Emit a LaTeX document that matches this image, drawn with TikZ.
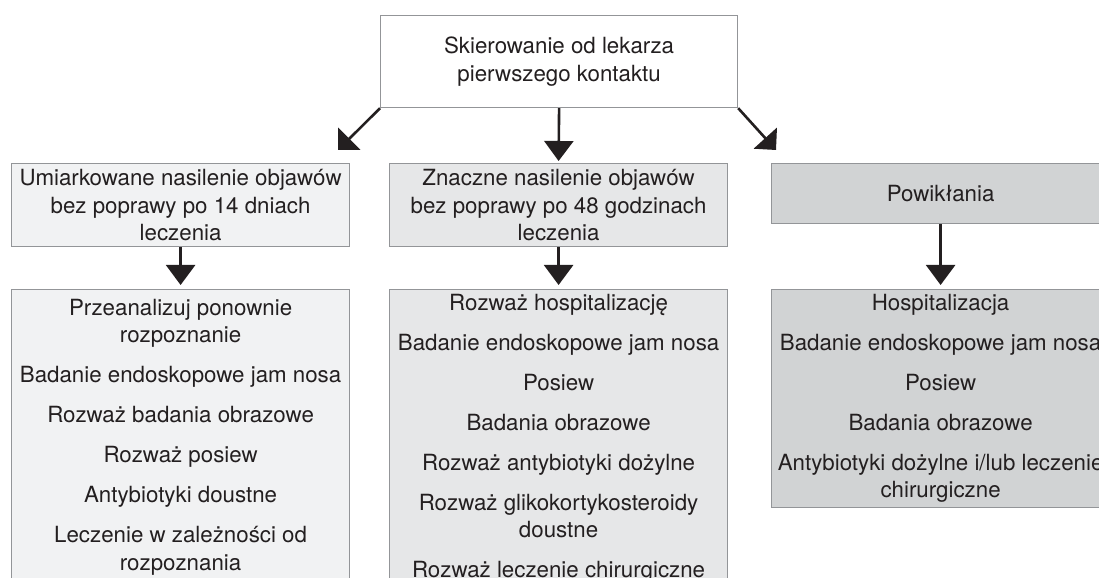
\documentclass[tikz,border=0pt]{standalone}
\usepackage{fontspec}
\setmainfont{TeX Gyre Heros}
\usetikzlibrary{arrows.meta}
\definecolor{ink}{HTML}{231F20}
\definecolor{edge}{HTML}{939598}
\definecolor{fillA}{HTML}{F1F2F3}
\definecolor{fillB}{HTML}{E6E7E8}
\definecolor{fillC}{HTML}{D1D3D4}
\begin{document}
\begin{tikzpicture}[x=1bp,y=-1bp,
  box/.style={draw=edge, line width=1.2bp, inner sep=0pt, minimum width=338bp, anchor=north west},
  txt/.style={text=ink, align=center, inner sep=0pt, anchor=north,
    font=\fontsize{22.3bp}{27.5bp}\selectfont},
  arr/.style={draw=ink, line width=2.6bp, -{Triangle[length=20bp,width=29bp]}},
  darr/.style={draw=ink, line width=2.6bp, -{Triangle[length=16bp,width=31bp]}}
]
\useasboundingbox (0,0) rectangle (1099,578);
\clip (0,0) rectangle (1099,578);

% top: referral
\node[box, fill=white, minimum width=357bp, minimum height=92bp] (top) at (380,15) {};
\node[txt, anchor=center] (topt) at (top.center) {Skierowanie od lekarza\\pierwszego kontaktu};

% second row: severity
\node[box, fill=fillA, minimum height=83bp] (m1) at (11,163) {};
\node[box, fill=fillB, minimum height=83bp] (m2) at (389,163) {};
\node[box, fill=fillC, minimum height=60bp] (m3) at (771,163) {};
\node[txt, anchor=center] (m1t) at (m1.center) {Umiarkowane nasilenie objawów\\bez poprawy po 14 dniach\\leczenia};
\node[txt, anchor=center] (m2t) at (m2.center) {Znaczne nasilenie objawów\\bez poprawy po 48 godzinach\\leczenia};
\node[txt, anchor=center] (m3t) at (m3.center) {Powikłania};

% third row: management
\node[box, fill=fillA, minimum height=400bp] (b1) at (11,289) {};
\node[box, fill=fillB, minimum height=400bp] (b2) at (389,289) {};
\node[box, fill=fillC, minimum height=218bp] (b3) at (771,289) {};
\node[txt] (b1t) at ([yshift=-10bp]b1.north) {Przeanalizuj ponownie\\rozpoznanie\\[12.5bp]
  Badanie endoskopowe jam nosa\\[12.5bp]
  Rozważ badania obrazowe\\[12.5bp]
  Rozważ posiew\\[12.5bp]
  Antybiotyki doustne\\[12.5bp]
  Leczenie w zależności od\\rozpoznania};
\node[txt] (b2t) at ([yshift=-5bp]b2.north) {Rozważ hospitalizację\\[12.5bp]
  Badanie endoskopowe jam nosa\\[12.5bp]
  Posiew\\[12.5bp]
  Badania obrazowe\\[12.5bp]
  Rozważ antybiotyki dożylne\\[12.5bp]
  Rozważ glikokortykosteroidy\\doustne\\[12.5bp]
  Rozważ leczenie chirurgiczne};
\node[txt] (b3t) at ([yshift=-5bp]b3.north) {Hospitalizacja\\[12.5bp]
  Badanie endoskopowe jam nosa\\[12.5bp]
  Posiew\\[12.5bp]
  Badania obrazowe\\[12.5bp]
  Antybiotyki dożylne i/lub leczenie\\chirurgiczne};

% connectors
\coordinate (dl) at (338,150);
\coordinate (dr) at (776,150);
\draw[darr] (top.south west) -- (dl);
\draw[darr] (top.south east) -- (dr);
\draw[arr] (top.south) -- ([yshift=2bp]m2.north);
\draw[arr] (m1.south) -- ([yshift=4bp]b1.north);
\draw[arr] (m2.south) -- ([yshift=4bp]b2.north);
\draw[arr] (m3.south) -- ([yshift=4bp]b3.north);
\end{tikzpicture}
\end{document}
